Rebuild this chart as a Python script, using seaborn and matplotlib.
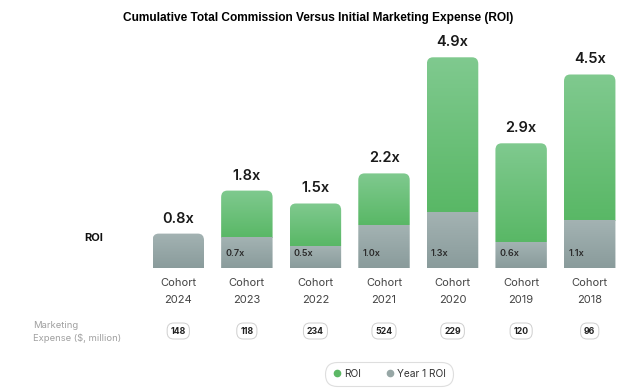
import numpy as np
import pandas as pd
import matplotlib
matplotlib.use('Agg')
import matplotlib.pyplot as plt
import matplotlib.transforms as mtransforms
from matplotlib.patches import FancyBboxPatch
from matplotlib.lines import Line2D
import seaborn as sns

# Data
cohorts = ['2024', '2023', '2022', '2021', '2020', '2019', '2018']
roi = [0.8, 1.8, 1.5, 2.2, 4.9, 2.9, 4.5]
year1_roi = [0.8, 0.7, 0.5, 1.0, 1.3, 0.6, 1.1]
expense = [148, 118, 234, 524, 229, 120, 96]

df = pd.DataFrame({'cohort': cohorts, 'roi': roi, 'year1': year1_roi, 'expense': expense})

sns.set_theme(style='white')
plt.rcParams['font.family'] = ['Inter', 'DejaVu Sans']

W, H = 636, 392
fig = plt.figure(figsize=(W / 100, H / 100), dpi=100)
fig.patch.set_facecolor('white')

def fx(px):
    return px / W

def fy(py):
    return 1 - py / H

# bars area: x slot 68.5 px, zero line at y=268 px, 43 px per unit
ax = fig.add_axes([fx(144), fy(268), fx(480), (268 - 30) / H])
ax.set_facecolor('white')

sns.barplot(data=df, x='cohort', y='roi', order=cohorts, color='#6cc07a', width=0.75, ax=ax)
sns.barplot(data=df, x='cohort', y='year1', order=cohorts, color='#97a7a6', width=0.75, ax=ax)
ax.set_xlim(-0.5, 6.5)
ax.set_ylim(0, 238 / 43)
ax.axis('off')

green_top, green_bot = np.array([0.50, 0.79, 0.56]), np.array([0.35, 0.72, 0.40])
gray_top, gray_bot = np.array([0.64, 0.70, 0.70]), np.array([0.54, 0.61, 0.61])

def gradient(c1, c2):
    t = np.linspace(0, 1, 64)[:, None]
    return (c1[None, :] * (1 - t) + c2[None, :] * t)[:, None, :]

n = len(cohorts)
patches = list(ax.patches)
green_patches, gray_patches = patches[:n], patches[n:]
rad = 0.09
for i in range(n):
    gp, yp = green_patches[i], gray_patches[i]
    x0, w = gp.get_x(), gp.get_width()
    top, y1 = gp.get_height(), yp.get_height()
    gp.set_visible(False)
    yp.set_visible(False)
    box = FancyBboxPatch((x0, -0.5), w, top + 0.5,
                         boxstyle=f'round,pad=0,rounding_size={rad}',
                         mutation_aspect=1 / 0.58, facecolor='none', edgecolor='none')
    ax.add_patch(box)
    if top > y1 + 1e-9:
        im = ax.imshow(gradient(green_top, green_bot), extent=(x0, x0 + w, y1, top),
                       aspect='auto', zorder=2)
        im.set_clip_path(box)
        im2 = ax.imshow(gradient(gray_top, gray_bot), extent=(x0, x0 + w, 0, y1),
                        aspect='auto', zorder=2)
        im2.set_clip_path(box)
        ax.text(x0 + 0.06, 0.33, f'{y1:.1f}x', fontsize=6.5, fontweight='semibold',
                color='#2b2b2b', va='center', ha='left', zorder=3)
    else:
        im = ax.imshow(gradient(gray_top, gray_bot), extent=(x0, x0 + w, 0, top),
                       aspect='auto', zorder=2)
        im.set_clip_path(box)
    ax.text(x0 + w / 2, top + 0.35, f'{top:.1f}x', fontsize=10.5, fontweight='semibold',
            color='#1a1a1a', ha='center', va='center', zorder=3)

ax.set_xlim(-0.5, 6.5)
ax.set_ylim(0, 238 / 43)

# labels below bars: x in data, y in figure
trans = mtransforms.blended_transform_factory(ax.transData, fig.transFigure)
for i, c in enumerate(cohorts):
    ax.text(i, fy(283), 'Cohort', transform=trans, ha='center', va='center',
            fontsize=8, color='#444444', clip_on=False)
    ax.text(i, fy(300), c, transform=trans, ha='center', va='center',
            fontsize=8, color='#444444', clip_on=False)
    ax.text(i, fy(331), str(expense[i]), transform=trans, ha='center', va='center',
            fontsize=6.3, fontweight='bold', color='#222222', clip_on=False,
            bbox=dict(boxstyle='round,pad=0.4,rounding_size=0.75', facecolor='white',
                      edgecolor='#cfcfcf', linewidth=0.7))

fig.text(fx(84), fy(238), 'ROI', fontsize=8, fontweight='bold', color='#111111',
         ha='left', va='center')
fig.text(fx(33), fy(325), 'Marketing', fontsize=6.8, color='#a0a0a0', ha='left', va='center')
fig.text(fx(33), fy(338), 'Expense ($, million)', fontsize=6.8, color='#a0a0a0',
         ha='left', va='center')

fig.text(0.5, fy(18), 'Cumulative Total Commission Versus Initial Marketing Expense (ROI)',
         fontsize=8.6, fontweight='bold', color='#000000', ha='center', va='center',
         family=['Liberation Sans', 'DejaVu Sans'])

# legend
handles = [Line2D([], [], marker='o', linestyle='', markersize=4.5, color='#5cb865', label='ROI'),
           Line2D([], [], marker='o', linestyle='', markersize=4.5, color='#97a7a6', label='Year 1 ROI')]
leg = fig.legend(handles=handles, loc='center', bbox_to_anchor=(fx(389), fy(374)), ncol=2,
                 frameon=True, fontsize=7.3, handletextpad=0.2, columnspacing=2.4,
                 handlelength=1.0, borderpad=0.6, fancybox=True)
leg.get_frame().set_edgecolor('#d6d6d6')
leg.get_frame().set_linewidth(0.8)
leg.get_frame().set_boxstyle('round,pad=0.1,rounding_size=1.2')
for t in leg.get_texts():
    t.set_color('#333333')

fig.savefig('out.png', dpi=100, facecolor='white')
